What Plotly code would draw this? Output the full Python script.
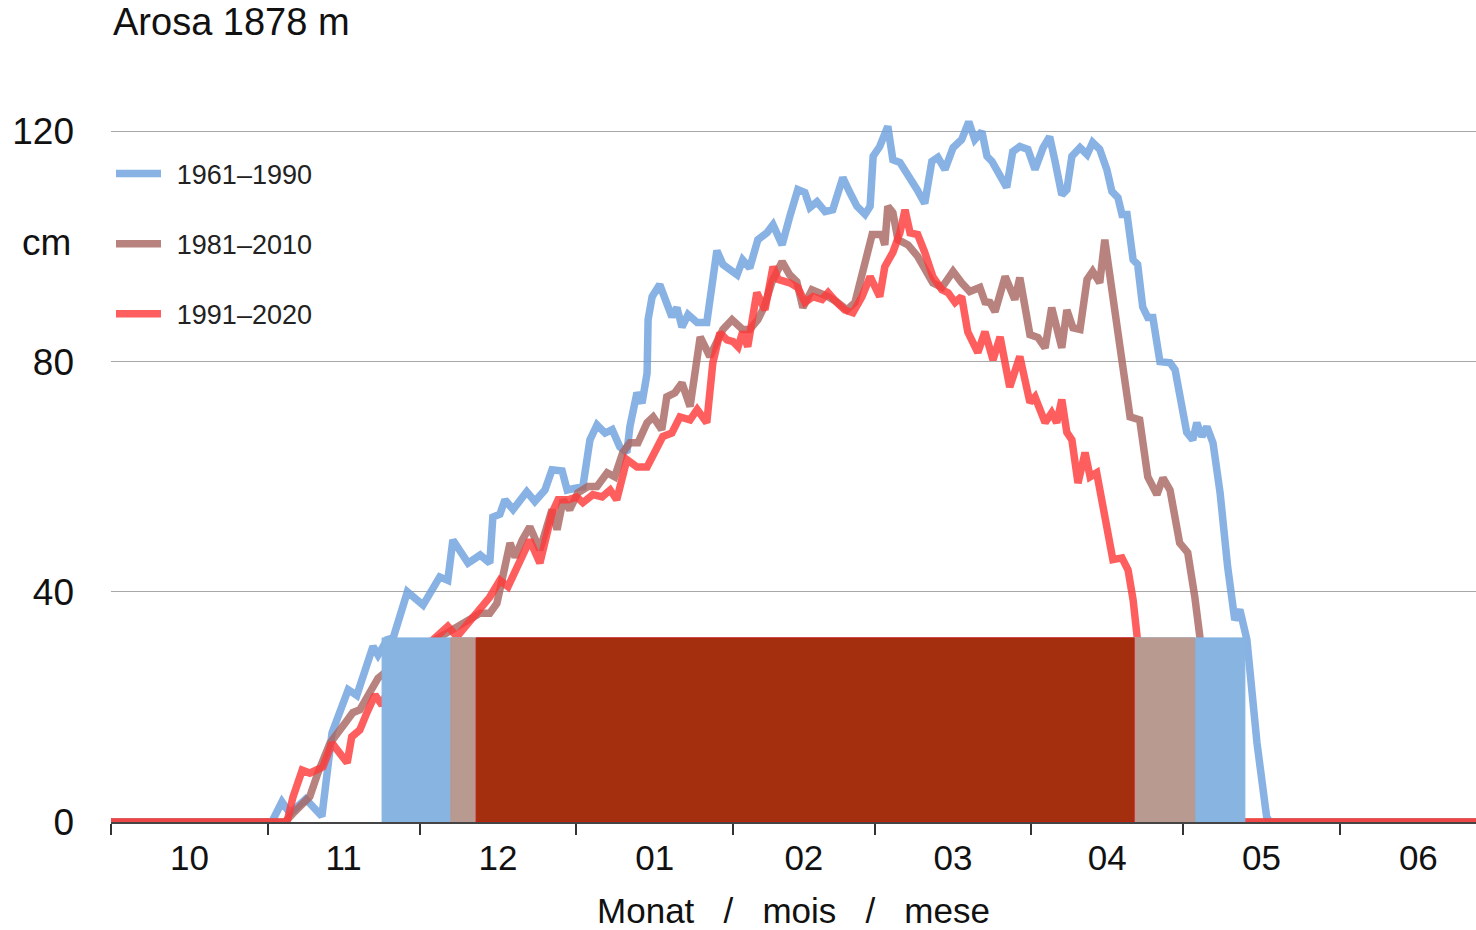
import plotly.graph_objects as go
import pandas as pd

# ---- data (day offsets from 1 Oct, snow depth in cm) ----
SEASON_START = "2000-10-01"

blue_days = [0, 31.8, 33.8, 35.4, 38.5, 41.7, 43.7, 46.9, 48.6, 51.8, 52.8, 54.6, 55.8, 58.6, 61.7, 65.0,
             66.6, 67.6, 70.6, 73.0, 74.9, 75.5, 76.9, 77.9, 79.5, 82.2, 83.8, 85.8, 87.2, 89.2, 90.2, 93.3,
             94.7, 96.1, 97.7, 99.1, 100.6, 102.0, 102.6, 104.0, 105.0, 106.0, 106.2, 107.0, 108.5, 110.9,
             111.9, 112.9, 114.1, 115.9, 117.8, 119.0, 119.8, 121.0, 123.8, 124.9, 126.3, 127.9, 129.7,
             130.9, 132.7, 134.2, 135.8, 137.2, 138.2, 139.6, 141.2, 142.7, 144.7, 146.1, 147.5, 149.1,
             150.1, 150.7, 152.0, 153.6, 154.6, 156.0, 157.6, 159.4, 160.9, 162.3, 163.5, 164.9, 166.5,
             168.2, 169.6, 170.8, 172.2, 173.2, 174.2, 175.8, 177.1, 178.3, 179.7, 181.3, 182.7, 184.3,
             185.6, 186.6, 188.0, 189.0, 190.0, 191.6, 193.0, 194.1, 195.5, 196.9, 197.9, 199.1, 199.9,
             200.9, 202.1, 203.0, 204.0, 205.0, 206.0, 207.4, 209.4, 210.4, 212.7, 213.9, 214.7, 215.7,
             216.7, 217.9, 219.3, 220.8, 222.2, 223.2, 224.2, 224.6, 226.6, 228.5, 229.1, 272]
blue_cm = [0, 0, 3.5, 1.5, 4, 1, 15.5, 23, 22, 30.5, 29, 31.7, 32, 40, 37.7, 42.6,
           42, 49, 45, 46.4, 45, 53, 53.5, 56, 54.3, 57.4, 55.7, 57.7, 61.2, 61, 57.7, 58.3,
           66.4, 69, 67.6, 68.2, 65.2, 64.2, 68.7, 74.6, 72.8, 78, 87.3, 91.3, 93.4, 87.8,
           89.4, 86, 88.2, 86.8, 86.8, 94.3, 99.3, 96.9, 95.1, 97.7, 96.3, 101.2, 102.4,
           103.8, 100.3, 105.2, 109.9, 109.4, 106.8, 107.8, 106.1, 106.4, 112, 109.4, 107, 105.6,
           107, 115.7, 117.4, 120.9, 115.1, 114.6, 112.5, 109.9, 107.5, 114.8, 115.5, 113.4, 117.2,
           118.6, 121.7, 118.6, 120, 115.7, 114.8, 112, 110.3, 116.5, 117.4, 116.9, 113.4, 117.2,
           119.1, 115.1, 109, 109.9, 115.7, 117.2, 116, 118.1, 116.9, 113.4, 109.6, 108.5, 105.6,
           105.6, 97.7, 96.9, 89.5, 87.7, 87.7, 80, 79.8, 78.6, 67.7, 66.4, 69.4, 67,
           68.7, 65.9, 57.2, 44.3, 35.1, 36.9, 33.4, 31.7, 13.7, 0.9, 0, 0]

brown_days = [0, 34.4, 36.0, 39.3, 40.9, 43.3, 46.3, 47.8, 49.2, 51.2, 52.8, 57.1, 63.1, 69.0, 73.0, 74.9,
              76.3, 77.3, 78.9, 79.9, 81.3, 82.8, 83.8, 84.8, 87.2, 88.2, 89.4, 90.7, 92.3, 94.3, 96.1,
              98.1, 99.6, 101.2, 102.6, 104.2, 106.0, 107.2, 108.9, 109.9, 111.5, 112.9, 114.5, 115.5,
              116.5, 118.4, 121.0, 122.8, 124.9, 126.3, 127.9, 129.2, 130.7, 132.7, 134.2, 135.6, 136.8,
              138.6, 140.2, 141.8, 143.5, 145.5, 147.1, 148.7, 150.5, 152.4, 153.0, 153.6, 154.6, 155.6,
              157.6, 159.5, 161.3, 162.5, 164.3, 166.5, 168.2, 169.8, 171.8, 172.8, 173.8, 174.8, 176.8,
              178.7, 179.7, 181.7, 183.3, 184.7, 186.0, 188.0, 189.0, 190.2, 191.6, 193.0, 194.1, 195.5,
              196.5, 197.5, 199.5, 201.5, 203.4, 205.0, 206.8, 208.0, 209.4, 211.3, 212.9, 214.3, 215.3,
              216.7, 218.3, 272]
brown_cm = [0, 0, 1.5, 4.4, 8.5, 13.7, 17.2, 19, 19.5, 22.4, 25, 28, 31, 34, 36.3, 36.3,
            38, 42, 48.5, 46, 49, 51.3, 49, 47.3, 54.3, 50.8, 56, 54.3, 57.2, 58.3, 58.3,
            60.7, 60, 64.2, 65.9, 65.9, 69.4, 70.4, 68.2, 73.9, 74.6, 76.3, 72.2, 79.1,
            84.3, 80.9, 85.6, 87.3, 85.6, 85.6, 87.3, 89.6, 93.9, 97.4, 95.1, 93.9, 89.4,
            92.5, 92, 91.3, 90.4, 89, 90.3, 96, 102.1, 102.1, 100.3, 107, 105.9, 101.2,
            100.3, 98.3, 95.5, 93.7, 92.9, 95.7, 93.7, 92.2, 92.9, 90.4, 90.3, 88.7, 94.8,
            90.8, 94.6, 84.7, 84.2, 82.4, 89.4, 82.4, 89, 85.9, 85.6, 94.3, 95.7, 93.7,
            101.2, 95.5, 82.6, 70.4, 69.9, 60, 56.9, 59.8, 57.7, 48.5, 46.8, 39.1, 32.2,
            15, 0, 0]

red_days = [0, 34.8, 36.0, 37.8, 39.3, 41.9, 43.7, 45.3, 46.7, 47.6, 49.2, 50.6, 52.2, 53.6, 55.2, 59.1,
            63.1, 65.4, 66.6, 68.4, 70.0, 73.0, 74.9, 76.9, 78.5, 80.3, 81.5, 82.8, 84.8, 86.4, 87.2,
            88.4, 90.4, 92.1, 93.3, 95.3, 97.1, 98.7, 100.0, 102.0, 104.0, 106.0, 107.6, 109.1, 110.9,
            112.5, 114.5, 115.9, 117.8, 118.4, 119.0, 120.4, 121.8, 123.0, 124.0, 124.9, 125.9, 127.7,
            129.3, 130.9, 131.9, 134.2, 135.8, 137.2, 138.8, 140.6, 141.8, 143.5, 145.1, 146.7, 148.5,
            150.1, 152.0, 153.0, 154.6, 156.0, 157.0, 158.0, 159.5, 160.9, 162.5, 164.3, 165.5, 166.9,
            168.2, 169.4, 171.4, 172.8, 174.4, 175.8, 177.7, 179.7, 181.7, 182.7, 184.7, 186.0, 187.0,
            188.0, 189.0, 190.0, 191.2, 192.6, 193.6, 194.9, 196.5, 198.1, 199.9, 201.1, 202.1, 203.0,
            204.4, 206.4, 207.4, 272]
red_cm = [0, 0, 4.4, 9, 8.5, 9.6, 13.7, 12, 10.3, 14.8, 16, 19, 22.1, 20.3, 24, 28,
          31, 33, 34, 32.2, 34, 36.9, 39.1, 42, 40.9, 44.3, 46.8, 49, 45, 50.3, 53.7,
          56, 56, 56.5, 55.5, 56.9, 56.5, 57.7, 56, 63, 61.7, 61.7, 64.3, 67, 67.6,
          70.4, 69.9, 71.7, 69.4, 74.6, 79.8, 85, 83.8, 83.5, 82.6, 85.2, 82.6, 92,
          89, 96.5, 94.3, 93.7, 92.9, 90.3, 91.3, 90.8, 92, 90.3, 89, 88.5, 91.3,
          94.8, 91.3, 96.5, 99, 102.4, 106.4, 102.4, 102.1, 99, 94.8, 92.5, 92, 90.3,
          91.3, 85.2, 81.6, 85.2, 80.3, 84.3, 75.6, 80.9, 72.9, 73.9, 69.4, 71.1, 69.4,
          73.4, 67.7, 66.4, 58.9, 64.2, 60, 60.7, 52.5, 45.6, 45.9, 43.8, 38.6, 32.2,
          20, 5, 0, 0]

series_names = ["1961\u20131990", "1981\u20132010", "1991\u20132020"]

# snow-cover periods (bars): start / end day offsets, bar height in cm
bar_start_days = [53.6, 67.2, 72.2]
bar_end_days = [224.2, 214.3, 202.3]
bar_height_cm = 32

x_range_days = [0, 269.9]
y_ticks = [0, 40, 80, 120]

# ---- styling ----
line_colors = ["rgba(110,160,222,0.82)", "rgba(168,102,98,0.82)", "rgba(255,58,58,0.82)"]
bar_fill = ["#87b4e0", "#b89a90", "#a32f0f"]
bar_line = ["#87b4e0", "#b89a90", "#d0150f"]
FONT = "Liberation Sans, Arial, sans-serif"
GAP = "\u2009\u2009"

start = pd.Timestamp(SEASON_START)


def to_dates(days):
    return [start + pd.Timedelta(days=float(d)) for d in days]


fig = go.Figure()
for name, days, vals, col in zip(series_names,
                                 [blue_days, brown_days, red_days],
                                 [blue_cm, brown_cm, red_cm],
                                 line_colors):
    fig.add_trace(go.Scatter(
        x=to_dates(days), y=vals, mode="lines", name=GAP + name, legendgroup=name,
        line=dict(color=col, width=7.5),
        hovertemplate=name + ": %{y} cm<extra></extra>",
    ))

for s, e, fc, lc in zip(bar_start_days, bar_end_days, bar_fill, bar_line):
    fig.add_shape(type="rect", xref="x", yref="y",
                  x0=start + pd.Timedelta(days=s), x1=start + pd.Timedelta(days=e),
                  y0=0, y1=bar_height_cm, fillcolor=fc,
                  line=dict(color=lc, width=1), layer="above")

fig.update_layout(
    width=1476, height=930,
    margin=dict(l=111, r=0, t=74, b=108),
    paper_bgcolor="white", plot_bgcolor="white",
    font=dict(family=FONT, color="#111111"),
    title=dict(text="Arosa 1878 m", x=113 / 1476, xanchor="left", xref="container",
               y=1 - 22 / 930, yanchor="middle", yref="container",
               font=dict(size=38, color="#111111", family=FONT)),
    legend=dict(x=0.0, y=0.899, xanchor="left", yanchor="top",
                font=dict(size=27, color="#222222", family=FONT),
                tracegroupgap=32, bgcolor="rgba(0,0,0,0)", itemwidth=45),
    showlegend=True,
)

fig.update_xaxes(
    type="date",
    range=to_dates(x_range_days),
    tick0=SEASON_START, dtick="M1", tickformat="%m", ticklabelmode="period",
    ticks="outside", ticklen=11, tickwidth=1.5, tickcolor="#333333",
    showline=True, linecolor="#444444", linewidth=1.5,
    showgrid=False, zeroline=False,
    ticklabelstandoff=-7,
    tickfont=dict(size=35, color="#111111", family=FONT),
    title=dict(text="Monat\u00a0\u00a0\u00a0/\u00a0\u00a0\u00a0mois\u00a0\u00a0\u00a0/\u00a0\u00a0\u00a0mese",
               font=dict(size=35, color="#111111", family=FONT), standoff=24),
)
fig.update_yaxes(
    range=[0, 130], tickvals=y_ticks, ticktext=[str(v) for v in y_ticks],
    showgrid=True, gridcolor="#a8a8a8", gridwidth=1,
    zeroline=False, showline=False, ticks="",
    ticklabelstandoff=36,
    tickfont=dict(size=37, color="#111111", family=FONT),
)

fig.add_annotation(text="cm", xref="paper", yref="y", x=-38 / 1365, y=100.7,
                   xanchor="right", yanchor="middle", showarrow=False,
                   font=dict(size=37, color="#111111", family=FONT))

fig.write_html("out.html", config={"displayModeBar": False},
               post_script="document.body.style.margin='0';")
